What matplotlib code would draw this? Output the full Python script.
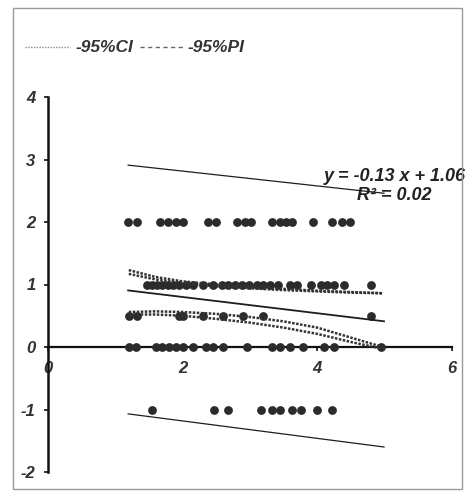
import matplotlib
matplotlib.use("Agg")
import matplotlib.pyplot as plt
from matplotlib.lines import Line2D
from matplotlib.patches import Rectangle

plt.rcParams["axes.unicode_minus"] = False

# ---- data ----
x_y2 = [1.19, 1.32, 1.66, 1.78, 1.90, 2.01, 2.37, 2.50, 2.81, 2.92, 3.01,
        3.32, 3.44, 3.54, 3.63, 3.93, 4.22, 4.37, 4.49]
x_y1 = [1.47, 1.55, 1.62, 1.70, 1.78, 1.86, 1.95, 2.05, 2.15, 2.30, 2.45,
        2.58, 2.68, 2.78, 2.88, 2.98, 3.10, 3.20, 3.30, 3.42, 3.60, 3.70,
        3.90, 4.05, 4.15, 4.25, 4.40, 4.80]
x_y05 = [1.20, 1.32, 1.95, 2.00, 2.30, 2.60, 2.90, 3.20, 4.80]
x_y0 = [1.20, 1.30, 1.60, 1.70, 1.80, 1.90, 2.00, 2.15, 2.35, 2.45, 2.60,
        2.96, 3.32, 3.45, 3.60, 3.78, 4.10, 4.25, 4.95]
x_ym1 = [1.54, 2.47, 2.67, 3.17, 3.32, 3.44, 3.63, 3.76, 3.99, 4.22]

slope, intercept, r2 = -0.13, 1.06, 0.02
fit_x = [1.19, 4.99]

band_x = [1.2, 1.6, 2.0, 2.5, 3.0, 3.5, 4.0, 4.5, 4.97]
ci_up_a = [1.23, 1.12, 1.05, 1.00, 0.96, 0.93, 0.90, 0.88, 0.86]
ci_up_b = [1.17, 1.08, 1.02, 0.97, 0.94, 0.91, 0.89, 0.87, 0.86]
ci_lo_a = [0.56, 0.57, 0.56, 0.53, 0.48, 0.41, 0.31, 0.15, 0.00]
ci_lo_b = [0.52, 0.52, 0.50, 0.45, 0.39, 0.31, 0.21, 0.08, -0.03]

pi_x = [1.19, 4.99]
pi_up = [2.91, 2.46]
pi_lo = [-1.07, -1.60]

DOT = "#2b2b2b"
LINE = "#1e1e1e"
FONT = dict(fontweight="bold", fontstyle="italic", family="Liberation Sans")

fig = plt.figure(figsize=(4.71, 4.92), dpi=100)
fig.patch.set_facecolor("white")
ax = fig.add_axes([48 / 471, 20 / 492, 404 / 471, 375 / 492])

# outer frame of the pasted chart
fig.add_artist(Rectangle((13 / 471, 3 / 492), 449 / 471, 481 / 492,
                         transform=fig.transFigure, fill=False,
                         edgecolor="#9a9a9a", lw=1.0))

# points
for xs, yv in [(x_y2, 2), (x_y1, 1), (x_y05, 0.5), (x_y0, 0), (x_ym1, -1)]:
    ax.scatter(xs, [yv] * len(xs), s=40, color=DOT, zorder=3, linewidths=0)

# regression line
ax.plot(fit_x, [slope * v + intercept for v in fit_x], color=LINE, lw=1.3, zorder=4)

# confidence bands (dotted, doubled up like the Excel scan)
for ys in (ci_up_a, ci_up_b, ci_lo_a, ci_lo_b):
    ax.plot(band_x, ys, color="#333333", lw=1.8, ls=(0, (1, 0.6)), zorder=4)

# prediction band
ax.plot(pi_x, pi_up, color=LINE, lw=0.9, zorder=2)
ax.plot(pi_x, pi_lo, color=LINE, lw=0.9, zorder=2)

ax.set_xlim(0, 6)
ax.set_ylim(-2, 4)
ax.set_xticks([0, 2, 4, 6])
ax.set_yticks([-2, -1, 0, 1, 2, 3, 4])
for s in ("top", "right"):
    ax.spines[s].set_visible(False)
ax.spines["bottom"].set_position(("data", 0))
ax.spines["bottom"].set_linewidth(1.6)
ax.spines["left"].set_linewidth(1.8)
ax.spines["bottom"].set_color("#111111")
ax.spines["left"].set_color("#111111")
ax.tick_params(axis="x", direction="out", length=3, width=1.2, pad=7, colors="#111111")
ax.tick_params(axis="y", direction="out", length=3, width=1.2, pad=6, colors="#111111")
for lab in ax.get_xticklabels() + ax.get_yticklabels():
    lab.set_fontsize(12)
    lab.set_fontweight("bold")
    lab.set_fontstyle("italic")
    lab.set_family("Liberation Sans")
    lab.set_color("#333333")
ax.set_facecolor("none")

# trendline label
ax.text(4.10, 2.66, f"y = {slope:.2f} x + {intercept:.2f}", fontsize=13,
        color="#222222", ha="left", va="baseline", **FONT)
ax.text(4.59, 2.35, f"R² = {r2:.2f}", fontsize=13,
        color="#222222", ha="left", va="baseline", **FONT)

# legend strip at the top
ly = 1 - 47 / 492
fig.add_artist(Line2D([25 / 471, 70 / 471], [ly, ly], transform=fig.transFigure,
                      color="#8a8a8a", lw=1.0, ls=(0, (1, 1))))
fig.text(76 / 471, ly, "-95%CI", fontsize=12.5, color="#333333", va="center", **FONT)
fig.add_artist(Line2D([140 / 471, 185 / 471], [ly, ly], transform=fig.transFigure,
                      color="#666666", lw=1.0, ls=(0, (3, 2.5))))
fig.text(188 / 471, ly, "-95%PI", fontsize=12.5, color="#333333", va="center", **FONT)

fig.savefig("out.png", dpi=100, facecolor="white")
